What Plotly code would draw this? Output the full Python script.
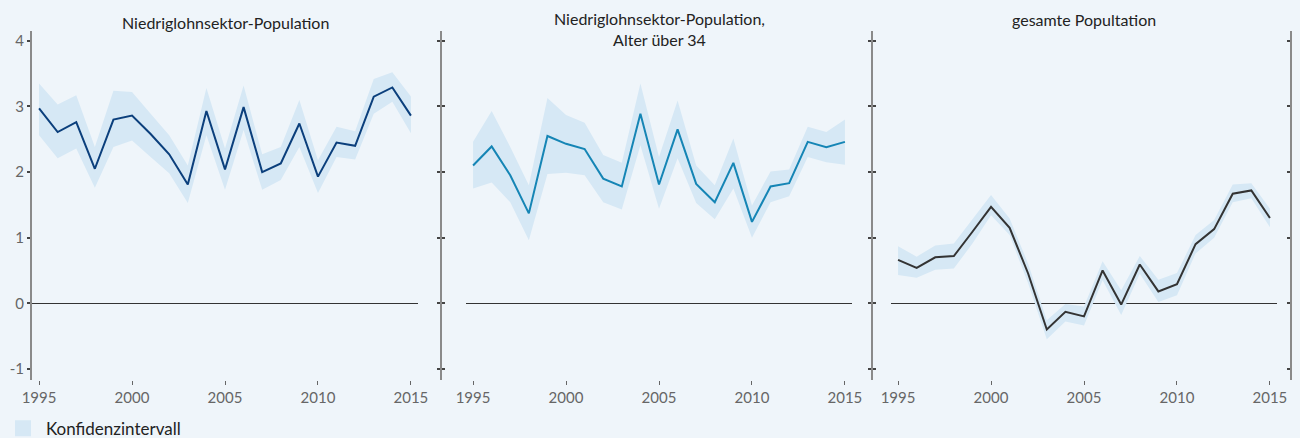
import plotly.graph_objects as go

years = list(range(1995, 2016))

titles = ["Niedriglohnsektor-Population",
          "Niedriglohnsektor-Population,<br>Alter über 34",
          "gesamte Popultation"]

niedrig_mid = [2.97, 2.61, 2.76, 2.05, 2.80, 2.86, 2.58, 2.27, 1.81, 2.93, 2.04,
               2.99, 2.00, 2.13, 2.74, 1.93, 2.45, 2.40, 3.15, 3.29, 2.86]
niedrig_hi = [3.35, 3.03, 3.17, 2.38, 3.24, 3.22, 2.89, 2.56, 2.10, 3.28, 2.36,
              3.32, 2.27, 2.38, 3.10, 2.18, 2.69, 2.62, 3.42, 3.52, 3.15]
niedrig_lo = [2.56, 2.21, 2.36, 1.76, 2.38, 2.48, 2.23, 1.98, 1.53, 2.56, 1.73,
              2.64, 1.73, 1.88, 2.38, 1.68, 2.23, 2.19, 2.89, 3.07, 2.59]

alt34_mid = [2.10, 2.39, 1.95, 1.37, 2.55, 2.43, 2.35, 1.90, 1.78, 2.89, 1.81,
             2.65, 1.82, 1.54, 2.14, 1.24, 1.78, 1.83, 2.46, 2.38, 2.46]
alt34_hi = [2.46, 2.93, 2.38, 1.80, 3.13, 2.87, 2.75, 2.26, 2.14, 3.35, 2.23,
            3.09, 2.10, 1.80, 2.51, 1.49, 2.01, 2.04, 2.69, 2.61, 2.80]
alt34_lo = [1.75, 1.84, 1.54, 0.96, 1.97, 1.99, 1.95, 1.54, 1.43, 2.41, 1.44,
            2.21, 1.53, 1.28, 1.75, 1.00, 1.54, 1.63, 2.23, 2.15, 2.11]

gesamt_mid = [0.66, 0.54, 0.70, 0.72, 1.09, 1.47, 1.15, 0.45, -0.40, -0.13, -0.20,
              0.50, -0.02, 0.59, 0.18, 0.29, 0.90, 1.13, 1.67, 1.72, 1.30]
gesamt_hi = [0.87, 0.71, 0.88, 0.91, 1.28, 1.65, 1.29, 0.60, -0.26, -0.01, -0.05,
             0.64, 0.20, 0.72, 0.36, 0.46, 1.04, 1.27, 1.81, 1.83, 1.44]
gesamt_lo = [0.43, 0.39, 0.51, 0.53, 0.91, 1.34, 1.04, 0.30, -0.55, -0.28, -0.34,
             0.35, -0.18, 0.45, 0.02, 0.12, 0.76, 1.00, 1.54, 1.60, 1.16]

y_ticks = [-1, 0, 1, 2, 3, 4]
y_ticklabels = ["-1", "0", "1", "2", "3", "4"]
x_ticks = [1995, 2000, 2005, 2010, 2015]
x_ticklabels = ["1995", "2000", "2005", "2010", "2015"]
legend_label = "Konfidenzintervall"

BG = "#eff5fa"
BAND = "rgb(214,232,245)"
LINE_COLORS = ["#0b3f7c", "#1585b5", "#333333"]
FONT = "Lato, 'Open Sans', sans-serif"

W, H = 1300, 438
x_domains = [[32 / W, 418 / W], [466 / W, 852 / W], [891 / W, 1277 / W]]
y_domain = [1 - 380 / H, 1 - 31 / H]
x_range = [1994.62, 2015.38]
y_range = [-1.17, 4.15]

fig = go.Figure()

panels = [(niedrig_mid, niedrig_hi, niedrig_lo),
          (alt34_mid, alt34_hi, alt34_lo),
          (gesamt_mid, gesamt_hi, gesamt_lo)]

for i, (mid, hi, lo) in enumerate(panels):
    xa = "x" if i == 0 else f"x{i+1}"
    ya = "y" if i == 0 else f"y{i+1}"
    fig.add_trace(go.Scatter(x=years, y=lo, mode="lines", line=dict(width=0),
                             hoverinfo="skip", showlegend=False, xaxis=xa, yaxis=ya))
    fig.add_trace(go.Scatter(x=years, y=hi, mode="lines", line=dict(width=0),
                             fill="tonexty", fillcolor=BAND, hoverinfo="skip",
                             showlegend=False, xaxis=xa, yaxis=ya))
    fig.add_trace(go.Scatter(x=years, y=mid, mode="lines",
                             line=dict(color=LINE_COLORS[i], width=2),
                             showlegend=False, xaxis=xa, yaxis=ya))

# legend entry
fig.add_trace(go.Scatter(x=[None], y=[None], mode="markers",
                         marker=dict(symbol="square", size=16, color=BAND),
                         name=legend_label, showlegend=True, xaxis="x", yaxis="y"))

# dummy traces so the extra overlay axes get drawn
fig.add_trace(go.Scatter(x=[None], y=[None], showlegend=False, xaxis="x2", yaxis="y4"))
fig.add_trace(go.Scatter(x=[None], y=[None], showlegend=False, xaxis="x3", yaxis="y5"))
fig.add_trace(go.Scatter(x=[None], y=[None], showlegend=False, xaxis="x3", yaxis="y6"))

xcommon = dict(range=x_range, tickvals=x_ticks, ticktext=x_ticklabels, ticks="outside",
               ticklen=4, tickwidth=1, tickcolor="#666", showline=False, showgrid=False,
               zeroline=False, tickfont=dict(size=15, color="#666"), automargin=False)
ycommon = dict(range=y_range, tickvals=y_ticks, ticktext=y_ticklabels, showgrid=False,
               zerolinecolor="#333", zerolinewidth=1, showline=True,
               linecolor="#8a8a8a", linewidth=2, tickcolor="#444", tickwidth=1.5,
               ticklen=3, automargin=False, tickfont=dict(size=15, color="#666"))

layout = dict(
    width=W, height=H,
    margin=dict(l=0, r=0, t=0, b=0, autoexpand=False),
    paper_bgcolor=BG, plot_bgcolor=BG,
    font=dict(family=FONT, size=14, color="#222"),
    showlegend=True,
    legend=dict(x=0.0, xanchor="left", y=-0.02, yanchor="bottom", itemwidth=36,
                orientation="h", bgcolor="rgba(0,0,0,0)",
                font=dict(size=17, color="#222")),
    xaxis=dict(domain=x_domains[0], anchor="y", **xcommon),
    xaxis2=dict(domain=x_domains[1], anchor="y2", **xcommon),
    xaxis3=dict(domain=x_domains[2], anchor="y3", **xcommon),
    yaxis=dict(domain=y_domain, anchor="x", ticks="outside", showticklabels=True,
               zeroline=True, **ycommon),
    yaxis2=dict(domain=y_domain, anchor="free", position=441 / W, ticks="outside",
                showticklabels=False, zeroline=True, **ycommon),
    yaxis3=dict(domain=y_domain, anchor="free", position=872 / W, ticks="outside",
                showticklabels=False, zeroline=True, **ycommon),
    yaxis4=dict(overlaying="y2", anchor="free", position=441 / W, ticks="inside",
                showticklabels=False, zeroline=False, **ycommon),
    yaxis5=dict(overlaying="y3", anchor="free", position=872 / W, ticks="inside",
                showticklabels=False, zeroline=False, **ycommon),
    yaxis6=dict(overlaying="y3", anchor="free", side="right", position=1291 / W,
                ticks="inside", showticklabels=False, zeroline=False, **ycommon),
)
fig.update_layout(**layout)

title_centers = [22, 28.5, 19]
for i, t in enumerate(titles):
    xc = (x_domains[i][0] + x_domains[i][1]) / 2
    fig.add_annotation(text=t, x=xc, xref="paper", y=1 - title_centers[i] / H, yref="paper",
                       xanchor="center", yanchor="middle", showarrow=False,
                       font=dict(size=16, color="#222", family=FONT))

fig.write_html("out.html")
